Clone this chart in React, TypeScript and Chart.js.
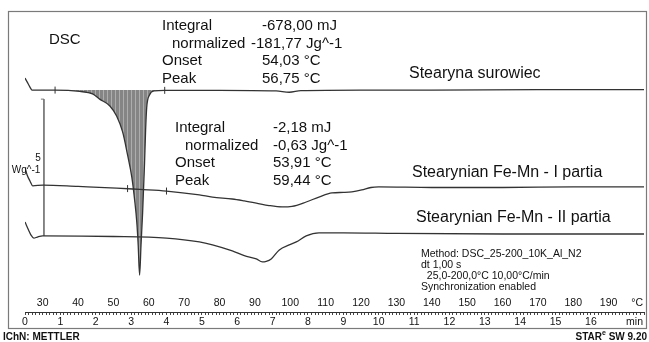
import React, { useEffect, useRef } from 'react';
import { Chart, registerables } from 'chart.js';

Chart.register(...registerables);

const FONT = '"Liberation Sans", Arial, Helvetica, sans-serif';

// Axis definitions
const tempMin = 25;
const tempMax = 200;
const heatingRate = 10; // °C/min
const tempTickLabels = [30, 40, 50, 60, 70, 80, 90, 100, 110, 120, 130, 140, 150, 160, 170, 180, 190];
const timeTickLabels = [0, 1, 2, 3, 4, 5, 6, 7, 8, 9, 10, 11, 12, 13, 14, 15, 16];
const tempUnit = '°C';
const timeUnit = 'min';

// Curve 1: Stearyna surowiec (offset heat flow, W/g)
const stearynaT = [25.0, 25.6, 26.4, 27.0, 33.5, 40.5, 44.1, 46.1, 49.0, 50.9, 52.6, 54.0, 55.2, 56.0, 56.6, 57.0, 57.4, 57.8, 58.25, 58.8, 59.1, 59.4, 60.2, 61.6, 64.5, 80.0, 96.0, 99.7, 103.0, 120.0, 140.0, 170.0, 200.0];
const stearynaY = [8.55, 8.41, 8.22, 8.11, 8.11, 8.06, 7.97, 7.78, 7.53, 7.16, 6.58, 5.74, 4.93, 4.09, 3.29, 2.45, 1.35, 2.45, 3.62, 5.45, 6.65, 7.46, 7.93, 8.08, 8.1, 8.1, 8.08, 8.03, 8.09, 8.11, 8.11, 8.13, 8.13];

// Curve 2: Stearynian Fe-Mn - I partia
const partiaIT = [25.0, 25.6, 26.4, 27.2, 30.1, 40.0, 50.9, 57.4, 65.0, 74.3, 78.0, 83.6, 87.0, 90.4, 94.0, 97.7, 100.5, 104.5, 108.1, 111.8, 115.0, 117.4, 120.2, 122.8, 125.0, 140.0, 160.0, 180.0, 200.0];
const partiaIY = [5.26, 5.01, 4.79, 4.61, 4.64, 4.59, 4.53, 4.48, 4.42, 4.28, 4.2, 4.13, 4.06, 3.98, 3.89, 3.84, 3.86, 4.02, 4.2, 4.35, 4.37, 4.39, 4.46, 4.55, 4.57, 4.55, 4.55, 4.57, 4.57];

// Curve 3: Stearynian Fe-Mn - II partia
const partiaIIT = [25.0, 26.0, 26.7, 27.5, 28.5, 30.0, 50.0, 65.0, 74.3, 78.0, 83.6, 87.0, 90.4, 92.1, 93.2, 94.6, 96.9, 99.7, 101.7, 104.5, 108.1, 115.0, 130.0, 160.0, 200.0];
const partiaIIY = [3.29, 3.0, 2.81, 2.7, 2.74, 2.78, 2.76, 2.7, 2.56, 2.45, 2.23, 2.06, 1.94, 1.83, 1.85, 1.94, 2.27, 2.45, 2.56, 2.78, 2.89, 2.89, 2.87, 2.85, 2.85];

// Peak integration on curve 1
const peakLimits = [33.5, 64.5];
const peakBaseline = 8.11;

// Evaluation limit markers
const markerT = [33.5, 64.5, 54.0, 65.0];
const markerY = [8.11, 8.1, 4.51, 4.42];

// Scale bar 5 W/g
const scaleBarT = [29.5, 30.35, 30.35];
const scaleBarY = [7.78, 7.78, 2.78];
const scaleBarLabel = ['5', 'Wg^-1'];

// Texts
const curveLabels = ['Stearyna surowiec', 'Stearynian Fe-Mn - I partia', 'Stearynian Fe-Mn - II partia'];
const evalNames = ['Integral', 'normalized', 'Onset', 'Peak'];
const eval1Values = ['-678,00 mJ', '-181,77 Jg^-1', '54,03 °C', '56,75 °C'];
const eval2Values = ['-2,18 mJ', '-0,63 Jg^-1', '53,91 °C', '59,44 °C'];
const methodLines = ['Method: DSC_25-200_10K_Al_N2', 'dt 1,00 s', '  25,0-200,0°C 10,00°C/min', 'Synchronization enabled'];
const titleText = 'DSC';
const footerLeft = 'IChN: METTLER';
const footerRight = ['STAR', 'e', ' SW 9.20'];

const zip = (xs: number[], ys: number[]) => xs.map((x, i) => ({ x, y: ys[i] }));

const overlayPlugin = {
  id: 'dscOverlay',
  afterDraw(chart: any) {
    const ctx = chart.ctx as CanvasRenderingContext2D;
    ctx.save();
    // frame
    ctx.strokeStyle = '#7a7a7a';
    ctx.lineWidth = 1.2;
    ctx.strokeRect(8.5, 11.5, 638, 317);

    ctx.fillStyle = '#111';
    ctx.textBaseline = 'alphabetic';
    ctx.textAlign = 'left';
    ctx.font = `15px ${FONT}`;
    ctx.fillText(titleText, 49, 44);

    const b1 = [30, 47.5, 65, 82.5];
    evalNames.forEach((n, i) => {
      ctx.fillText(n, i === 1 ? 172 : 162, b1[i]);
      ctx.fillText(eval1Values[i], i === 1 ? 251 : 262, b1[i]);
    });
    const b2 = [132, 149.5, 167, 184.5];
    evalNames.forEach((n, i) => {
      ctx.fillText(n, i === 1 ? 185 : 175, b2[i]);
      ctx.fillText(eval2Values[i], 273, b2[i]);
    });

    ctx.font = `16px ${FONT}`;
    ctx.fillText(curveLabels[0], 409, 78);
    ctx.fillText(curveLabels[1], 412, 177);
    ctx.fillText(curveLabels[2], 416, 222);

    ctx.font = `10.5px ${FONT}`;
    const mb = [257, 268, 279, 290];
    methodLines.forEach((l, i) => ctx.fillText(l, 421, mb[i]));

    // scale bar label
    ctx.font = `10px ${FONT}`;
    ctx.textAlign = 'center';
    ctx.fillText(scaleBarLabel[0], 38, 161);
    ctx.fillText(scaleBarLabel[1], 26, 173);

    // axis units
    const xs = chart.scales.x;
    ctx.textAlign = 'right';
    ctx.textBaseline = 'middle';
    ctx.font = `10.5px ${FONT}`;
    ctx.fillText(tempUnit, xs.right - 1, 303);
    ctx.fillText(timeUnit, xs.right - 1, 322);

    // footer
    ctx.textBaseline = 'alphabetic';
    ctx.textAlign = 'left';
    ctx.font = `bold 10px ${FONT}`;
    ctx.fillText(footerLeft, 3, 340);
    const w0 = ctx.measureText(footerRight[0]).width;
    const w2 = ctx.measureText(footerRight[2]).width;
    ctx.font = `bold 7px ${FONT}`;
    const w1 = ctx.measureText(footerRight[1]).width;
    const start = 647 - (w0 + w1 + w2);
    ctx.font = `bold 10px ${FONT}`;
    ctx.fillText(footerRight[0], start, 340);
    ctx.fillText(footerRight[2], start + w0 + w1, 340);
    ctx.font = `bold 7px ${FONT}`;
    ctx.fillText(footerRight[1], start + w0, 335);
    ctx.restore();
  },
};

export default function App() {
  const ref = useRef<HTMLCanvasElement | null>(null);

  useEffect(() => {
    if (!ref.current) return;
    const pc = document.createElement('canvas');
    pc.width = 4;
    pc.height = 1;
    const pctx = pc.getContext('2d')!;
    pctx.fillStyle = '#858585';
    pctx.fillRect(0, 0, 3, 1);
    pctx.fillStyle = '#adadad';
    pctx.fillRect(3, 0, 1, 1);
    const pattern = ref.current.getContext('2d')!.createPattern(pc, 'repeat');

    const stearyna = zip(stearynaT, stearynaY);
    const peakPart = stearyna.filter((p) => p.x >= peakLimits[0] && p.x <= peakLimits[1]);
    const lineCommon = {
      pointRadius: 0,
      borderColor: '#333',
      borderWidth: 1.3,
      cubicInterpolationMode: 'monotone' as const,
      fill: false,
      order: 1,
    };

    const chart = new Chart(ref.current, {
      type: 'line',
      data: {
        datasets: [
          { ...lineCommon, label: curveLabels[0], data: stearyna },
          {
            label: 'peak',
            data: peakPart,
            pointRadius: 0,
            borderWidth: 0,
            borderColor: 'rgba(0,0,0,0)',
            backgroundColor: pattern as any,
            cubicInterpolationMode: 'monotone',
            fill: { value: peakBaseline },
            order: 10,
          },
          { ...lineCommon, label: curveLabels[1], data: zip(partiaIT, partiaIY) },
          { ...lineCommon, label: curveLabels[2], data: zip(partiaIIT, partiaIIY) },
          {
            label: 'scale',
            data: zip(scaleBarT, scaleBarY),
            pointRadius: 0,
            borderColor: '#777',
            borderWidth: 1,
            tension: 0,
            fill: false,
            order: 2,
          },
          {
            label: 'limits',
            data: zip(markerT, markerY),
            showLine: false,
            pointStyle: 'line',
            rotation: 90,
            pointRadius: 3.5,
            borderColor: '#333',
            borderWidth: 1,
            order: 0,
          },
        ],
      },
      options: {
        animation: false,
        responsive: false,
        devicePixelRatio: 1,
        layout: { padding: { left: 25, right: 3, top: 11, bottom: 0 } },
        plugins: { legend: { display: false }, tooltip: { enabled: false } },
        scales: {
          x: {
            type: 'linear',
            position: 'bottom',
            weight: 0,
            min: tempMin,
            max: tempMax,
            afterBuildTicks: (scale: any) => {
              const t = [];
              for (let v = tempMin; v <= tempMax; v += 1) t.push({ value: v });
              scale.ticks = t;
            },
            afterFit: (scale: any) => {
              scale.height = 4;
            },
            ticks: {
              autoSkip: false,
              maxRotation: 0,
              minRotation: 0,
              mirror: true,
              padding: 3,
              color: '#111',
              font: { family: FONT, size: 10.5 },
              callback: (v: any) => (tempTickLabels.includes(Number(v)) ? String(v) : ''),
            },
            grid: { display: true, drawOnChartArea: false, drawTicks: true, tickLength: 3, color: '#444' },
            border: { display: true, color: '#333', width: 1 },
          },
          xTime: {
            type: 'linear',
            position: 'bottom',
            weight: 1,
            min: 0,
            max: (tempMax - tempMin) / heatingRate,
            afterBuildTicks: (scale: any) => {
              scale.ticks = timeTickLabels.map((v) => ({ value: v }));
            },
            afterFit: (scale: any) => {
              scale.height = 26;
            },
            ticks: {
              autoSkip: false,
              maxRotation: 0,
              minRotation: 0,
              padding: 0,
              color: '#111',
              font: { family: FONT, size: 10.5 },
              callback: (v: any) => String(v),
            },
            grid: { display: false, drawTicks: false },
            border: { display: false },
          },
          y: {
            type: 'linear',
            display: false,
            min: 0,
            max: 11,
          },
        },
      },
      plugins: [overlayPlugin],
    });
    return () => chart.destroy();
  }, []);

  return (
    <div style={{ position: 'absolute', left: 0, top: 0, width: 649, height: 342, background: '#fff' }}>
      <canvas ref={ref} width={649} height={342} style={{ display: 'block' }} />
    </div>
  );
}
